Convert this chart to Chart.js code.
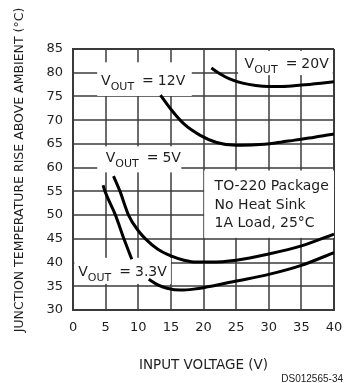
<!DOCTYPE html>
<html>
<head>
<meta charset="utf-8">
<script src="https://cdn.jsdelivr.net/npm/chart.js@4.4.1/dist/chart.umd.min.js"></script>
<style>
  html, body { margin: 0; padding: 0; background: #fff; }
  #wrap { width: 345px; height: 383px; position: relative; }
</style>
</head>
<body>
<div id="wrap"><canvas id="chart"></canvas></div>
<script>
'use strict';

/* ── Data ─── */
const V20_VIN  = [21.2, 22.5, 24, 26, 28, 30, 32, 35, 38, 40];
const V20_TEMP = [81.0, 79.8, 78.7, 77.8, 77.3, 77.1, 77.1, 77.4, 77.8, 78.1];

const V12_VIN  = [13.4, 15, 17, 19.5, 22, 25, 28, 31, 34, 37, 40];
const V12_TEMP = [75.3, 72.3, 69.2, 66.8, 65.3, 64.7, 64.8, 65.2, 65.8, 66.4, 67.1];

const V5_VIN   = [6.2, 7.2, 8.5, 10, 11.1, 13, 15, 17, 19, 21, 25, 30, 35, 40];
const V5_TEMP  = [58.2, 55, 50, 46.7, 45, 42.8, 41.4, 40.5, 40.1, 40.1, 40.5, 41.8, 43.5, 46];

// null = break in the curve behind the 3.3V label
const V33_VIN  = [4.6, 4.9, 6.5, 7.8, 9.0, 10.3, 11.6, 13, 14.4, 16.5, 18.5, 20, 25, 30, 35, 40];
const V33_TEMP = [56.3, 55, 50, 45, 40.7, null, 36.5, 35.3, 34.6, 34.2, 34.4, 34.7, 36.1, 37.5, 39.4, 42.1];

const X_MIN = 0,  X_MAX = 40, X_STEP = 5;
const Y_MIN = 30, Y_MAX = 85, Y_STEP = 5;

const X_TITLE = 'INPUT VOLTAGE (V)';
const Y_TITLE = 'JUNCTION TEMPERATURE RISE ABOVE AMBIENT (°C)';
const NOTE    = ['TO-220 Package', 'No Heat Sink', '1A Load, 25°C'];
const FOOTER  = 'DS012565-34';

/* ── Annotation placement (data units) ────── */
const VOUT_LABELS = [
  { value: '12V',  at: [4.3, 77.4],  box: [3.7, 82.2, 18.2, 75.1] },
  { value: '20V',  at: [26.3, 81.0], box: [25.3, 84.6, 39.8, 79.5] },
  { value: '5V',   at: [5.0, 61.1],  box: [3.7, 64.5, 16.6, 59.0] },
  { value: '3.3V', at: [0.8, 37.2],  box: [0.2, 41.0, 15.0, 35.5] },
];
const NOTE_BOX = [20.1, 59.4, 40, 45.2];
const NOTE_AT  = [21.7, 55.2];

const FONT = "'DejaVu Sans', sans-serif";
const INK  = '#1e1e1e';
const GRID = '#3a3a3a';

function pts(xs, ys) { return xs.map((x, i) => ({ x, y: ys[i] })); }

function curve(label, xs, ys) {
  return {
    label,
    data: pts(xs, ys),
    borderColor: '#000',
    borderWidth: 3,
    pointRadius: 0,
    fill: false,
    spanGaps: false,
    cubicInterpolationMode: 'monotone',
  };
}

function whiteBox(ctx, sx, sy, b) {
  const x1 = sx.getPixelForValue(b[0]), y1 = sy.getPixelForValue(b[1]);
  const x2 = sx.getPixelForValue(b[2]), y2 = sy.getPixelForValue(b[3]);
  ctx.fillStyle = '#fff';
  ctx.fillRect(x1, y1, x2 - x1, y2 - y1);
}

// grid from the scales' own ticks, slid underneath everything already drawn
// so the white label boxes keep hiding it
function drawGrid(ctx, sx, sy, area) {
  ctx.globalCompositeOperation = 'destination-over';
  ctx.globalAlpha = 1;
  ctx.setLineDash([]);
  ctx.lineDashOffset = 0;
  ctx.strokeStyle = GRID;
  sx.ticks.forEach(t => {
    const px = Math.round(sx.getPixelForValue(t.value));
    ctx.lineWidth = t.value === X_MAX ? 2 : 1.5;
    ctx.beginPath();
    ctx.moveTo(px, area.top);
    ctx.lineTo(px, area.bottom);
    ctx.stroke();
  });
  sy.ticks.forEach(t => {
    const py = Math.round(sy.getPixelForValue(t.value));
    ctx.lineWidth = t.value === Y_MAX ? 2 : 1.5;
    ctx.beginPath();
    ctx.moveTo(area.left, py);
    ctx.lineTo(area.right, py);
    ctx.stroke();
  });
}

function drawVout(ctx, x, y, value) {
  ctx.fillStyle = INK;
  ctx.textAlign = 'left';
  ctx.textBaseline = 'alphabetic';
  ctx.font = '14px ' + FONT;
  ctx.fillText('V', x, y);
  let cx = x + ctx.measureText('V').width;
  ctx.font = '11px ' + FONT;
  ctx.fillText('OUT', cx, y + 5);
  cx += ctx.measureText('OUT').width + 8;
  ctx.font = '14px ' + FONT;
  ctx.fillText('=', cx, y);
  cx += ctx.measureText('=').width + 4;
  ctx.fillText(value, cx, y);
}

/* ── Annotations plugin ───────────────────── */
const annotations = {
  id: 'annotations',
  beforeDatasetsDraw(chart) {
    const { ctx, scales: { x, y } } = chart;
    ctx.save();
    VOUT_LABELS.forEach(l => whiteBox(ctx, x, y, l.box));
    whiteBox(ctx, x, y, NOTE_BOX);

    VOUT_LABELS.forEach(l => drawVout(ctx, x.getPixelForValue(l.at[0]), y.getPixelForValue(l.at[1]), l.value));

    ctx.fillStyle = INK;
    ctx.font = '14px ' + FONT;
    const nx = x.getPixelForValue(NOTE_AT[0]);
    const ny = y.getPixelForValue(NOTE_AT[1]);
    NOTE.forEach((t, i) => ctx.fillText(t, nx, ny + i * 18.5));
    ctx.restore();
  },
  afterDraw(chart) {
    const { ctx, chartArea, scales: { x, y } } = chart;
    ctx.save();
    // y title, drawn by hand so it can sit off-centre like the original
    ctx.translate(20, 170);
    ctx.rotate(-Math.PI / 2);
    ctx.fillStyle = INK;
    ctx.font = '12.5px ' + FONT;
    ctx.textAlign = 'center';
    ctx.textBaseline = 'middle';
    ctx.fillText(Y_TITLE, 0, 0);
    ctx.restore();

    ctx.save();
    ctx.fillStyle = '#222';
    ctx.font = "10px 'Liberation Sans', Arial, sans-serif";
    ctx.textAlign = 'right';
    ctx.textBaseline = 'alphabetic';
    ctx.fillText(FOOTER, 343, 382);
    ctx.restore();

    ctx.save();
    drawGrid(ctx, x, y, chartArea);
    ctx.restore();
  },
};

/* ── Chart ────────────────────────────────── */
// y axis width = label (~16.5) + 2 * padding (10) -> left edge lands near 73px
new Chart(document.getElementById('chart').getContext('2d'), {
  type: 'line',
  data: {
    datasets: [
      curve('VOUT = 20V', V20_VIN, V20_TEMP),
      curve('VOUT = 12V', V12_VIN, V12_TEMP),
      curve('VOUT = 5V',  V5_VIN,  V5_TEMP),
      curve('VOUT = 3.3V', V33_VIN, V33_TEMP),
    ],
  },
  options: {
    responsive: true,
    maintainAspectRatio: false,
    animation: false,
    layout: { padding: { top: 49, right: 11, bottom: 0, left: 36.5 } },
    plugins: {
      legend: { display: false },
      tooltip: { enabled: false },
    },
    scales: {
      x: {
        type: 'linear',
        min: X_MIN, max: X_MAX,
        grid: { drawOnChartArea: false, drawTicks: false },
        border: { color: GRID, width: 2 },
        ticks: { stepSize: X_STEP, padding: 2, maxRotation: 0, color: INK,
                 font: { family: FONT, size: 13, lineHeight: 2.4 } },
        title: {
          display: true, text: X_TITLE, color: INK,
          font: { family: FONT, size: 13.5 },
          padding: { top: 12.6, bottom: 9 },
        },
      },
      y: {
        type: 'linear',
        min: Y_MIN, max: Y_MAX,
        grid: { drawOnChartArea: false, drawTicks: false },
        border: { color: GRID, width: 2 },
        ticks: { stepSize: Y_STEP, padding: 10, color: INK, font: { family: FONT, size: 13 } },
      },
    },
  },
  plugins: [annotations],
});
</script>
</body>
</html>
